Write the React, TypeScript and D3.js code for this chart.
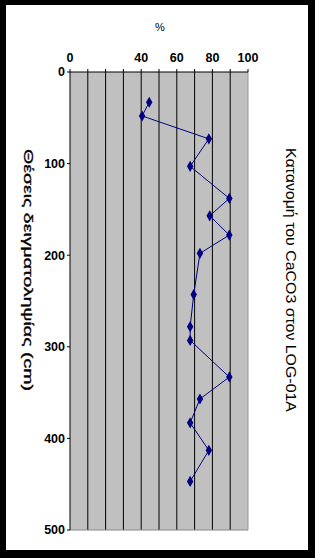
import React from "react";
import * as d3 from "d3";

const depths = [33, 48, 73, 103, 138, 157, 178, 198, 243, 278, 293, 333, 357, 383, 413, 447];
const caco3 = [44.5, 40.5, 78, 67.5, 89.5, 78.5, 89.5, 73, 69.5, 67.5, 67.5, 89.5, 73, 67.5, 78, 67.5];
const xTickLabels = [0, 40, 60, 80, 100];
const xGrid = [10, 20, 30, 40, 50, 60, 70, 80, 90];
const yTicks = [0, 100, 200, 300, 400, 500];
const xTitle = "%";
const yTitle = "Θέσεις δειγματοληψίας (cm)";
const chartTitle = "Κατανομή του CaCO3 στον LOG-01A";

export default function App() {
  const W = 315, H = 558;
  const x = d3.scaleLinear().domain([0, 100]).range([70, 248]);
  const y = d3.scaleLinear().domain([0, 500]).range([72, 530]);
  const line = d3.line<number>().x((_, i) => x(caco3[i])).y((d) => y(d));
  const font = "'Liberation Sans', Arial, sans-serif";
  return (
    <svg width={W} height={H} style={{ position: "absolute", left: 0, top: 0 }}>
      <rect x={0} y={0} width={W} height={H} fill="#000" />
      <rect x={6} y={5} width={302} height={545} fill="#fff" />
      <rect x={x(0)} y={y(0)} width={x(100) - x(0)} height={y(500) - y(0)} fill="#c0c0c0" />
      {xGrid.map((g) => (
        <line key={g} x1={x(g)} x2={x(g)} y1={y(0)} y2={y(500)} stroke="#000" strokeWidth={1} />
      ))}
      <line x1={x(100)} x2={x(100)} y1={y(0)} y2={y(500)} stroke="#999" strokeWidth={1} />
      <line x1={x(0)} x2={x(100)} y1={y(500)} y2={y(500)} stroke="#888" strokeWidth={1} />
      <line x1={x(0)} x2={x(100)} y1={y(0)} y2={y(0)} stroke="#000" strokeWidth={1} />
      <line x1={x(0)} x2={x(0)} y1={y(0)} y2={y(500)} stroke="#000" strokeWidth={1} />
      {[0, ...xGrid, 100].map((g) => (
        <line key={"t" + g} x1={x(g)} x2={x(g)} y1={y(0) - 3} y2={y(0)} stroke="#000" />
      ))}
      {xTickLabels.map((t) => (
        <text key={t} x={x(t)} y={62} textAnchor="middle" fontFamily={font} fontWeight="bold" fontSize={12.5} fill="#000">
          {t}
        </text>
      ))}
      {yTicks.map((t) => (
        <g key={t}>
          <line x1={x(0) - 3} x2={x(0)} y1={y(t)} y2={y(t)} stroke="#000" />
          <text x={x(0) - 5} y={y(t)} dy="0.35em" textAnchor="end" fontFamily={font} fontWeight="bold" fontSize={12.5} fill="#000">
            {t}
          </text>
        </g>
      ))}
      <text x={160} y={31} textAnchor="middle" fontFamily={font} fontSize={11} fill="#000">{xTitle}</text>
      <text transform="translate(24,270) rotate(90)" textAnchor="middle" fontFamily={font} fontSize={12.5} textLength={242} lengthAdjust="spacingAndGlyphs" fill="#000" stroke="#000" strokeWidth={0.3}>{yTitle}</text>
      <text transform="translate(286,280) rotate(90)" textAnchor="middle" fontFamily={font} fontSize={14} textLength={264} lengthAdjust="spacingAndGlyphs" fill="#000">{chartTitle}</text>
      <path d={line(depths) || ""} fill="none" stroke="#000080" strokeWidth={1} />
      {depths.map((d, i) => (
        <path key={i} d={d3.symbol().type(d3.symbolDiamond).size(36)() || ""} transform={`translate(${x(caco3[i])},${y(d)})`} fill="#000080" />
      ))}
    </svg>
  );
}
